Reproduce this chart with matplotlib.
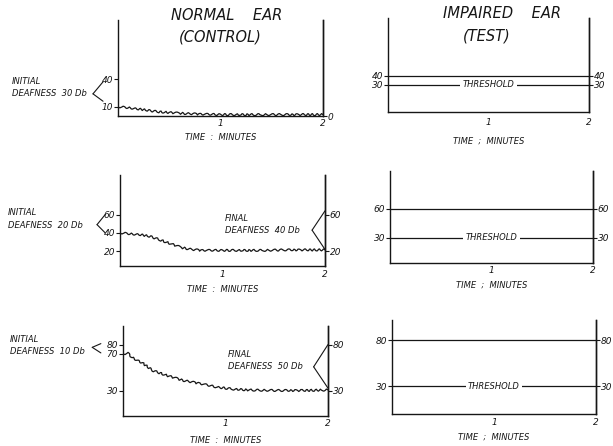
import matplotlib.pyplot as plt

# Figure size in pixels (dpi 100)
W, H = 613, 446

# Normal ear (control): deafness in dB vs time in minutes
t_ctrl_a = [0, 0.1, 0.2, 0.3, 0.4, 0.6, 0.8, 1.0, 1.2, 1.4, 1.6, 1.8, 2.0]
ctrl_a = [10, 9, 7.5, 6, 4.5, 3, 2, 1.5, 1.5, 1.5, 1.5, 1.5, 1.5]

t_ctrl_b = [0, 0.1, 0.2, 0.3, 0.4, 0.5, 0.6, 0.7, 0.8, 1.0, 1.2, 1.4, 1.6, 1.8, 2.0]
ctrl_b = [40, 39, 38, 36, 32, 28, 24, 22, 21, 21, 21, 21, 21.5, 21.5, 21.5]

t_ctrl_c = [0, 0.05, 0.09, 0.19, 0.29, 0.42, 0.58, 0.75, 0.92, 1.07, 1.24, 1.5, 1.75, 2.0]
ctrl_c = [70, 70.5, 66, 60, 52, 47, 41.5, 38, 34, 32, 31, 30.5, 30.5, 31]

# Impaired ear (test): constant levels
t_test = [0, 2]
test_level = [40, 60, 80]
threshold = [30, 30, 30]

# tick labels
ctrl_left_ticks = [[40, 10], [60, 40, 20], [80, 70, 30]]
ctrl_right_ticks = [[0], [60, 20], [80, 30]]
initial_db = [30, 20, 10]
final_db = [None, 40, 50]

plt.rcParams['font.family'] = 'DejaVu Sans'
plt.rcParams['font.style'] = 'italic'
INK = '#161616'


def box(l, t, r, b):
    return [l / W, 1 - b / H, (r - l) / W, (b - t) / H]


def style_axes(ax, ylim, left_ticks, right_ticks, xlab, pad1, pad2):
    ax.set_xlim(0, 2)
    ax.set_ylim(*ylim)
    ax.spines['top'].set_visible(False)
    for s in ['left', 'right', 'bottom']:
        ax.spines[s].set_linewidth(1.0)
        ax.spines[s].set_color(INK)
    ax.set_xticks([1, 2])
    ax.set_xticklabels(['1', '2'])
    ax.tick_params(axis='x', length=0, pad=pad1, labelsize=6.5, colors=INK)
    ax.set_yticks(left_ticks)
    ax.tick_params(axis='y', direction='out', length=3, width=0.8, pad=0.5,
                   labelsize=6.5, colors=INK)
    sec = ax.secondary_yaxis('right')
    sec.set_yticks(right_ticks)
    sec.spines['right'].set_linewidth(1.0)
    sec.spines['right'].set_color(INK)
    sec.tick_params(direction='out', length=3, width=0.8, pad=0.5,
                    labelsize=6.5, colors=INK)
    ax.set_xlabel(xlab, fontsize=6, labelpad=pad2, color=INK)


def bracket(ax, vertex, ends):
    tr = ax.get_yaxis_transform()
    for e in ends:
        ax.annotate('', xy=e, xycoords=tr, xytext=vertex, textcoords=tr,
                    annotation_clip=False,
                    arrowprops=dict(arrowstyle='-', lw=0.8, color=INK,
                                    shrinkA=0, shrinkB=0))


fig = plt.figure(figsize=(W / 100, H / 100), dpi=100)
fig.patch.set_facecolor('white')

# --- normal ear panels ---
ctrl_boxes = [(118, 20, 323, 116), (120, 175, 325, 266), (123, 326, 328, 416)]
ctrl_ylims = [(0, 104), (4, 103), (3, 100)]
ctrl_t = [t_ctrl_a, t_ctrl_b, t_ctrl_c]
ctrl_y = [ctrl_a, ctrl_b, ctrl_c]
ctrl_pads = [(2, 4), (3, 4), (2, 6)]
left_brackets = [((-0.122, 24), [(-0.073, 37), (-0.073, 16)]),
                 ((-0.112, 49), [(-0.072, 60), (-0.072, 40)]),
                 ((-0.150, 77), [(-0.108, 81), (-0.108, 71)])]
right_brackets = [None,
                  ((0.937, 43), [(1.0, 64), (1.0, 22)]),
                  ((0.930, 56), [(1.0, 80), (1.0, 33)])]
init_xy = [(12, 82), (8, 213), (10, 339)]

for i in range(3):
    ax = fig.add_axes(box(*ctrl_boxes[i]))
    ax.patch.set_alpha(0)
    style_axes(ax, ctrl_ylims[i], ctrl_left_ticks[i], ctrl_right_ticks[i],
               'TIME  :  MINUTES', *ctrl_pads[i])
    line, = ax.plot(ctrl_t[i], ctrl_y[i], color=INK, lw=0.9)
    line.set_sketch_params(scale=1.0, length=6, randomness=2)
    v, ends = left_brackets[i]
    bracket(ax, v, ends)
    x0, y0 = init_xy[i]
    fig.text(x0 / W, 1 - y0 / H, 'INITIAL', fontsize=6, va='center', color=INK)
    fig.text(x0 / W, 1 - (y0 + 12) / H, 'DEAFNESS  %d Db' % initial_db[i],
             fontsize=6, va='center', color=INK)
    if final_db[i] is not None:
        v, ends = right_brackets[i]
        bracket(ax, v, ends)
        ax.text(0.51, v[1] + 13, 'FINAL', fontsize=6, va='center', color=INK,
                transform=ax.get_yaxis_transform())
        ax.text(0.51, v[1], 'DEAFNESS  %d Db' % final_db[i], fontsize=6,
                va='center', color=INK, transform=ax.get_yaxis_transform())

# --- impaired ear panels ---
test_boxes = [(388, 18, 589, 112), (390, 171, 593, 263), (392, 320, 596, 414)]
test_ylims = [(0, 104), (4, 99), (0, 102)]
test_pads = [(4, 7), (2, 4), (3, 4)]

for i in range(3):
    ax = fig.add_axes(box(*test_boxes[i]))
    ax.patch.set_alpha(0)
    ticks = [test_level[i], threshold[i]]
    style_axes(ax, test_ylims[i], ticks, ticks, 'TIME  ;  MINUTES', *test_pads[i])
    ax.plot(t_test, [test_level[i]] * 2, color=INK, lw=0.9)
    ax.plot(t_test, [threshold[i]] * 2, color=INK, lw=0.9)
    ax.text(1.0, threshold[i], 'THRESHOLD', fontsize=6, ha='center',
            va='center', color=INK,
            bbox=dict(facecolor='white', edgecolor='none', pad=1.5))

# --- column titles ---
fig.text(227 / W, 1 - 15 / H, 'NORMAL    EAR', fontsize=10.5, ha='center',
         va='center', color=INK)
fig.text(220 / W, 1 - 37 / H, '(CONTROL)', fontsize=10.5, ha='center',
         va='center', color=INK)
fig.text(502 / W, 1 - 14 / H, 'IMPAIRED    EAR', fontsize=10.5, ha='center',
         va='center', color=INK)
fig.text(487 / W, 1 - 36 / H, '(TEST)', fontsize=10.5, ha='center',
         va='center', color=INK)

fig.savefig('out.png', dpi=100, facecolor='white')
